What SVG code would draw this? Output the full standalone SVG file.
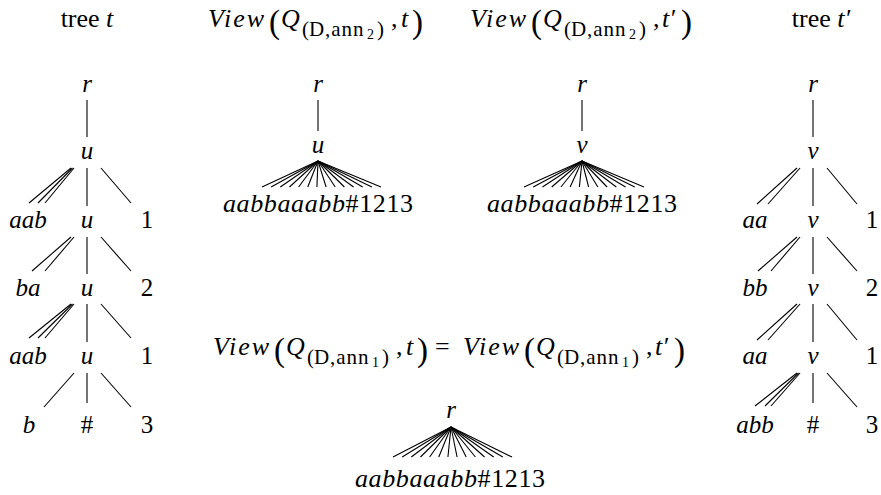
<svg xmlns="http://www.w3.org/2000/svg" width="881" height="495" viewBox="0 0 881 495" font-family="'Liberation Serif', 'DejaVu Serif', serif">
<style>
text { font-family: "Liberation Serif", "DejaVu Serif", "Times New Roman", serif; fill: #000; }
.n { font-size: 25px; font-style: italic; text-anchor: middle; }
.d { font-size: 25px; font-style: normal; text-anchor: middle; }
.lbl { font-size: 26px; text-anchor: middle; }
.t { font-size: 26px; }
.i { font-style: italic; }
.big { font-size: 33px; font-style: normal; }
.s { font-size: 21px; font-style: normal; letter-spacing: 1px; }
.ss { font-size: 14px; font-style: normal; }
#edges line { stroke: #000; stroke-width: 1.1; }
</style>

<!-- titles -->
<g id="title-t">
<text class="t" x="87" y="27" text-anchor="middle">tree <tspan class="i">t</tspan></text>
</g>
<g id="title-view2-t">
<text class="t"><tspan class="i" x="208" y="27" textLength="56">View</tspan><tspan class="big" x="269" y="33">(</tspan><tspan class="i" x="281" y="27">Q</tspan><tspan class="s" x="302" y="36">(</tspan><tspan class="s i" x="309" y="36">D</tspan><tspan class="s" x="325" y="36">,ann</tspan><tspan class="ss" x="367" y="39">2</tspan><tspan class="s" x="377" y="36">)</tspan><tspan x="391" y="27">,</tspan><tspan class="i" x="401" y="27">t</tspan><tspan class="big" x="412" y="33">)</tspan></text>
</g>
<g id="title-view2-t2">
<text class="t"><tspan class="i" x="470" y="27" textLength="56">View</tspan><tspan class="big" x="531" y="33">(</tspan><tspan class="i" x="543" y="27">Q</tspan><tspan class="s" x="564" y="36">(</tspan><tspan class="s i" x="571" y="36">D</tspan><tspan class="s" x="587" y="36">,ann</tspan><tspan class="ss" x="629" y="39">2</tspan><tspan class="s" x="639" y="36">)</tspan><tspan x="653" y="27">,</tspan><tspan class="i" x="662" y="27">t′</tspan><tspan class="big" x="681" y="33">)</tspan></text>
</g>
<g id="title-t2">
<text class="t" x="821" y="27" text-anchor="middle">tree <tspan class="i">t′</tspan></text>
</g>
<g id="title-view1">
<text class="t"><tspan class="i" x="213" y="355" textLength="56">View</tspan><tspan class="big" x="274" y="361">(</tspan><tspan class="i" x="286" y="355">Q</tspan><tspan class="s" x="307" y="364">(</tspan><tspan class="s i" x="314" y="364">D</tspan><tspan class="s" x="330" y="364">,ann</tspan><tspan class="ss" x="372" y="367">1</tspan><tspan class="s" x="382" y="364">)</tspan><tspan x="396" y="355">,</tspan><tspan class="i" x="406" y="355">t</tspan><tspan class="big" x="417" y="361">)</tspan><tspan x="435" y="355" textLength="18">=</tspan><tspan class="i" x="463" y="355" textLength="56">View</tspan><tspan class="big" x="524" y="361">(</tspan><tspan class="i" x="536" y="355">Q</tspan><tspan class="s" x="557" y="364">(</tspan><tspan class="s i" x="564" y="364">D</tspan><tspan class="s" x="580" y="364">,ann</tspan><tspan class="ss" x="622" y="367">1</tspan><tspan class="s" x="632" y="364">)</tspan><tspan x="646" y="355">,</tspan><tspan class="i" x="655" y="355">t′</tspan><tspan class="big" x="674" y="361">)</tspan></text>
</g>

<!-- connectors -->
<g id="edges">
<!-- left tree t -->
<line x1="87" y1="100" x2="87" y2="137"/>
<line x1="71" y1="168" x2="29" y2="203"/>
<line x1="72.5" y1="168" x2="38" y2="203"/>
<line x1="74" y1="168" x2="45" y2="203"/>
<line x1="87" y1="168" x2="87" y2="206"/>
<line x1="101" y1="168" x2="131" y2="203"/>
<line x1="71" y1="237" x2="32" y2="271"/>
<line x1="74" y1="237" x2="45" y2="271"/>
<line x1="87" y1="237" x2="87" y2="274"/>
<line x1="101" y1="237" x2="131" y2="271"/>
<line x1="71" y1="304" x2="29" y2="338"/>
<line x1="72.5" y1="304" x2="38" y2="338"/>
<line x1="74" y1="304" x2="45" y2="338"/>
<line x1="87" y1="304" x2="87" y2="342"/>
<line x1="101" y1="304" x2="131" y2="338"/>
<line x1="74" y1="373" x2="44" y2="407"/>
<line x1="87" y1="373" x2="87" y2="403"/>
<line x1="101" y1="373" x2="131" y2="407"/>
<!-- right tree t' -->
<line x1="813" y1="100" x2="813" y2="137"/>
<line x1="797" y1="168" x2="757" y2="204"/>
<line x1="800" y1="168" x2="768" y2="204"/>
<line x1="813" y1="168" x2="813" y2="206"/>
<line x1="827" y1="168" x2="857" y2="204"/>
<line x1="797" y1="237" x2="758" y2="271"/>
<line x1="800" y1="237" x2="771" y2="271"/>
<line x1="813" y1="237" x2="813" y2="274"/>
<line x1="827" y1="237" x2="857" y2="271"/>
<line x1="797" y1="304" x2="757" y2="340"/>
<line x1="800" y1="304" x2="768" y2="340"/>
<line x1="813" y1="304" x2="813" y2="342"/>
<line x1="827" y1="304" x2="857" y2="340"/>
<line x1="797" y1="373" x2="755" y2="406"/>
<line x1="798.5" y1="373" x2="765" y2="406"/>
<line x1="800" y1="373" x2="771" y2="406"/>
<line x1="813" y1="373" x2="813" y2="403"/>
<line x1="827" y1="373" x2="857" y2="407"/>
<!-- view ann2 t -->
<line x1="318" y1="100" x2="318" y2="131"/>
<line x1="318" y1="161" x2="262" y2="187"/>
<line x1="318" y1="161" x2="271.15" y2="187"/>
<line x1="318" y1="161" x2="280.31" y2="187"/>
<line x1="318" y1="161" x2="289.46" y2="187"/>
<line x1="318" y1="161" x2="298.62" y2="187"/>
<line x1="318" y1="161" x2="307.77" y2="187"/>
<line x1="318" y1="161" x2="316.92" y2="187"/>
<line x1="318" y1="161" x2="326.08" y2="187"/>
<line x1="318" y1="161" x2="335.23" y2="187"/>
<line x1="318" y1="161" x2="344.38" y2="187"/>
<line x1="318" y1="161" x2="353.54" y2="187"/>
<line x1="318" y1="161" x2="362.69" y2="187"/>
<line x1="318" y1="161" x2="371.85" y2="187"/>
<line x1="318" y1="161" x2="381" y2="187"/>
<!-- view ann2 t' -->
<line x1="582" y1="100" x2="582" y2="131"/>
<line x1="582" y1="161" x2="524" y2="187"/>
<line x1="582" y1="161" x2="533.23" y2="187"/>
<line x1="582" y1="161" x2="542.46" y2="187"/>
<line x1="582" y1="161" x2="551.69" y2="187"/>
<line x1="582" y1="161" x2="560.92" y2="187"/>
<line x1="582" y1="161" x2="570.15" y2="187"/>
<line x1="582" y1="161" x2="579.38" y2="187"/>
<line x1="582" y1="161" x2="588.62" y2="187"/>
<line x1="582" y1="161" x2="597.85" y2="187"/>
<line x1="582" y1="161" x2="607.08" y2="187"/>
<line x1="582" y1="161" x2="616.31" y2="187"/>
<line x1="582" y1="161" x2="625.54" y2="187"/>
<line x1="582" y1="161" x2="634.77" y2="187"/>
<line x1="582" y1="161" x2="644" y2="187"/>
<!-- view ann1 -->
<line x1="451" y1="427" x2="393" y2="457"/>
<line x1="451" y1="427" x2="402.15" y2="457"/>
<line x1="451" y1="427" x2="411.31" y2="457"/>
<line x1="451" y1="427" x2="420.46" y2="457"/>
<line x1="451" y1="427" x2="429.62" y2="457"/>
<line x1="451" y1="427" x2="438.77" y2="457"/>
<line x1="451" y1="427" x2="447.92" y2="457"/>
<line x1="451" y1="427" x2="457.08" y2="457"/>
<line x1="451" y1="427" x2="466.23" y2="457"/>
<line x1="451" y1="427" x2="475.38" y2="457"/>
<line x1="451" y1="427" x2="484.54" y2="457"/>
<line x1="451" y1="427" x2="493.69" y2="457"/>
<line x1="451" y1="427" x2="502.85" y2="457"/>
<line x1="451" y1="427" x2="512" y2="457"/>
</g>

<!-- left tree t nodes -->
<g id="t-r"><text class="n" x="87" y="92">r</text></g>
<g id="t-u1"><text class="n" x="87" y="159">u</text></g>
<g id="t-aab1"><text class="n" x="28" y="228">aab</text></g>
<g id="t-u2"><text class="n" x="87" y="228">u</text></g>
<g id="t-1a"><text class="d" x="147" y="228">1</text></g>
<g id="t-ba"><text class="n" x="28" y="296">ba</text></g>
<g id="t-u3"><text class="n" x="87" y="296">u</text></g>
<g id="t-2"><text class="d" x="147" y="296">2</text></g>
<g id="t-aab2"><text class="n" x="28" y="364">aab</text></g>
<g id="t-u4"><text class="n" x="87" y="364">u</text></g>
<g id="t-1b"><text class="d" x="147" y="364">1</text></g>
<g id="t-b"><text class="n" x="29" y="433">b</text></g>
<g id="t-hash"><text class="d" x="87" y="433">#</text></g>
<g id="t-3"><text class="d" x="147" y="433">3</text></g>

<!-- right tree t' nodes -->
<g id="tp-r"><text class="n" x="813" y="92">r</text></g>
<g id="tp-v1"><text class="n" x="813" y="159">v</text></g>
<g id="tp-aa1"><text class="n" x="755" y="228">aa</text></g>
<g id="tp-v2"><text class="n" x="813" y="228">v</text></g>
<g id="tp-1a"><text class="d" x="872" y="228">1</text></g>
<g id="tp-bb"><text class="n" x="755" y="296">bb</text></g>
<g id="tp-v3"><text class="n" x="813" y="296">v</text></g>
<g id="tp-2"><text class="d" x="872" y="296">2</text></g>
<g id="tp-aa2"><text class="n" x="755" y="364">aa</text></g>
<g id="tp-v4"><text class="n" x="813" y="364">v</text></g>
<g id="tp-1b"><text class="d" x="872" y="364">1</text></g>
<g id="tp-abb"><text class="n" x="755" y="433">abb</text></g>
<g id="tp-hash"><text class="d" x="813" y="433">#</text></g>
<g id="tp-3"><text class="d" x="872" y="433">3</text></g>

<!-- view ann2 t -->
<g id="v2t-r"><text class="n" x="318" y="92">r</text></g>
<g id="v2t-u"><text class="n" x="318" y="153">u</text></g>
<g id="v2t-leaf"><text class="lbl" x="318" y="212" textLength="190"><tspan class="i">aabbaaabb</tspan>#1213</text></g>

<!-- view ann2 t' -->
<g id="v2tp-r"><text class="n" x="582" y="92">r</text></g>
<g id="v2tp-v"><text class="n" x="582" y="153">v</text></g>
<g id="v2tp-leaf"><text class="lbl" x="582" y="212" textLength="190"><tspan class="i">aabbaaabb</tspan>#1213</text></g>

<!-- view ann1 -->
<g id="v1-r"><text class="n" x="451" y="418">r</text></g>
<g id="v1-leaf"><text class="lbl" x="450" y="487" textLength="190"><tspan class="i">aabbaaabb</tspan>#1213</text></g>
</svg>
